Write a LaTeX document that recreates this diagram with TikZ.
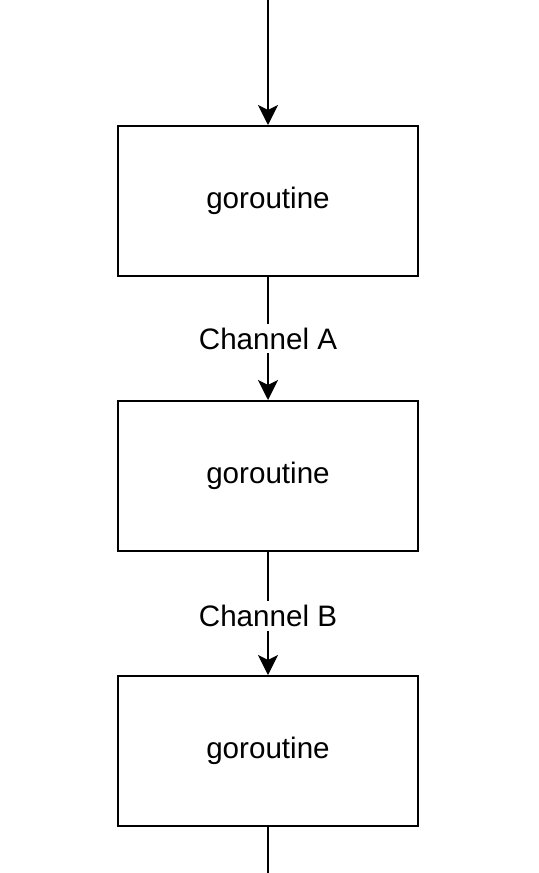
\documentclass[tikz,border=0pt]{standalone}
\usepackage{fontspec}
\setmainfont{Liberation Sans}
\usetikzlibrary{arrows.meta}

\tikzset{
  gobox/.style={draw,line width=1pt,minimum width=150pt,minimum height=75pt,font=\fontsize{14.8}{17}\selectfont},
  chlabel/.style={fill=white,inner sep=2pt,font=\fontsize{14.8}{17}\selectfont},
  flow/.style={line width=1pt,-{Stealth[length=10pt,width=10pt,inset=2.5pt]}}
}

\begin{document}
\begin{tikzpicture}[x=0.5pt,y=-0.5pt]
      \useasboundingbox (0,0) rectangle (538,873);

      \node[gobox] (g1) at (268,201) {goroutine};
      \node[gobox] (g2) at (268,476) {goroutine};
      \node[gobox] (g3) at (268,751) {goroutine};

      \coordinate (in) at (268,0);
      \coordinate (out) at (268,873);

      \draw[flow] (in) -- (g1.north);
      \draw[flow] (g1.south) -- node[chlabel,pos=0.5] (chA) {Channel A} (g2.north);
      \draw[flow] (g2.south) -- node[chlabel,pos=0.52] (chB) {Channel B} (g3.north);
      \draw[line width=1pt] (g3.south) -- (out);
    \end{tikzpicture}
\end{document}
